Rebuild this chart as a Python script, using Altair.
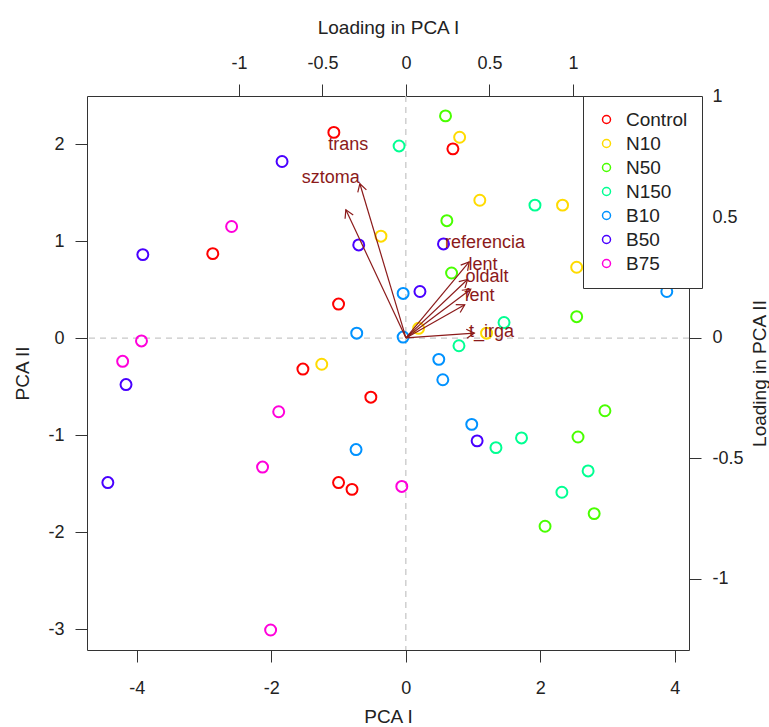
import altair as alt
import pandas as pd

FONT = "Liberation Sans, Arial, sans-serif"
TXT = "#222222"
ARROW = "#8B1A1A"

# ---- data -------------------------------------------------------------
groups = ["Control", "N10", "N50", "N150", "B10", "B50", "B75"]
colors = ["#FF0000", "#FFDB00", "#49FF00", "#00FF92", "#0092FF", "#4900FF", "#FF00DB"]

control_x = [-1.07, 0.70, -2.87, -1.00, -1.53, -0.52, -1.00, -0.80]
control_y = [2.12, 1.95, 0.87, 0.35, -0.32, -0.61, -1.49, -1.56]
n10_x = [0.80, 1.10, 2.33, -0.37, 2.54, 0.19, 1.20, -1.25]
n10_y = [2.07, 1.42, 1.37, 1.05, 0.73, 0.10, 0.05, -0.27]
n50_x = [0.59, 0.61, 0.68, 2.54, 2.96, 2.56, 2.80, 2.07]
n50_y = [2.29, 1.21, 0.67, 0.22, -0.75, -1.02, -1.81, -1.94]
n150_x = [-0.10, 1.92, 1.46, 0.79, 1.72, 1.34, 2.71, 2.32]
n150_y = [1.98, 1.37, 0.16, -0.08, -1.03, -1.13, -1.37, -1.59]
b10_x = [3.88, -0.04, -0.73, -0.04, 0.49, 0.55, 0.98, -0.74]
b10_y = [0.48, 0.46, 0.05, 0.01, -0.22, -0.43, -0.89, -1.15]
b50_x = [-1.84, -3.91, -0.70, 0.56, 0.21, -4.16, 1.06, -4.43]
b50_y = [1.82, 0.86, 0.96, 0.97, 0.48, -0.48, -1.06, -1.49]
b75_x = [-2.59, -3.93, -4.21, -1.89, -2.13, -0.06, -2.01]
b75_y = [1.15, -0.03, -0.24, -0.76, -1.33, -1.53, -3.01]

var_names = ["trans", "sztoma", "referencia", "lent", "oldalt", "fent", "t_irga"]
load_x = [-0.345, -0.45, 0.473, 0.461, 0.485, 0.44, 0.512]
load_y = [0.80, 0.665, 0.394, 0.303, 0.253, 0.172, 0.025]

bottom_ticks = [-4, -2, 0, 2, 4]
left_ticks = [-3, -2, -1, 0, 1, 2]
top_ticks = [-1, -0.5, 0, 0.5, 1]
right_ticks = [-1, -0.5, 0, 0.5, 1]

# ---- tables ----------------------------------------------------------
xs = [control_x, n10_x, n50_x, n150_x, b10_x, b50_x, b75_x]
ys = [control_y, n10_y, n50_y, n150_y, b10_y, b50_y, b75_y]
rows = []
for g, gx, gy in zip(groups, xs, ys):
    for a, b in zip(gx, gy):
        rows.append({"group": g, "pc1": a, "pc2": b})
scores = pd.DataFrame(rows)
loads = pd.DataFrame({"name": var_names, "lx": load_x, "ly": load_y})
zero_df = pd.DataFrame({"zero": [0.0]})

# ---- layout ---------------------------------------------------------
W, H = 602, 554
SX = [-4.74, 4.21]
SY = [-3.216, 2.495]
LX = [-1.910, 1.695]
LY = [-1.295, 1.004]
kx = W / (LX[1] - LX[0])
ky = H / (LY[1] - LY[0])


def axis(orient, values, title, pad, tx, ty, angle):
    return alt.Axis(
        orient=orient, values=values, title=title,
        labelExpr="'' + datum.value",
        tickSize=12, tickColor="#333333", tickWidth=1,
        domain=False, grid=False,
        labelFont=FONT, labelFontSize=18, labelColor=TXT, labelPadding=pad,
        labelFlush=False, labelOverlap=False,
        titleFont=FONT, titleFontSize=19, titleFontWeight="normal", titleColor=TXT,
        titleX=tx, titleY=ty, titleAngle=angle,
        titleBaseline="middle", titleAlign="center",
    )


ax_bottom = axis("bottom", bottom_ticks, "PCA I", 17, W / 2, 66, 0)
ax_left = axis("left", left_ticks, "PCA II", 11, -65, H / 2, 270)
ax_top = axis("top", top_ticks, "Loading in PCA I", 12, W / 2, -69, 0)
ax_right = axis("right", right_ticks, "Loading in PCA II", 11, 70, H / 2, 270)

sx = alt.Scale(domain=SX, nice=False, zero=False)
sy = alt.Scale(domain=SY, nice=False, zero=False)
lx = alt.Scale(domain=LX, nice=False, zero=False)
ly = alt.Scale(domain=LY, nice=False, zero=False)

vline = alt.Chart(zero_df).mark_rule(color="#C8C8C8", strokeDash=[6, 5], strokeWidth=1.3).encode(
    x=alt.X("zero:Q", scale=sx, axis=ax_bottom)
)
hline = alt.Chart(zero_df).mark_rule(color="#C8C8C8", strokeDash=[6, 5], strokeWidth=1.3).encode(
    y=alt.Y("zero:Q", scale=sy, axis=ax_left)
)
points = alt.Chart(scores).mark_point(filled=False, size=120, strokeWidth=2, opacity=1).encode(
    x=alt.X("pc1:Q", scale=sx, axis=ax_bottom),
    y=alt.Y("pc2:Q", scale=sy, axis=ax_left),
    color=alt.Color(
        "group:N",
        scale=alt.Scale(domain=groups, range=colors),
        sort=groups,
        legend=alt.Legend(
            orient="none", legendX=496, legendY=0, title=None,
            fillColor="white", strokeColor="#333333",
            padding=14, rowPadding=4,
            labelFont=FONT, labelFontSize=19, labelColor=TXT, labelOffset=10,
            symbolType="circle", symbolSize=64, symbolStrokeWidth=1.5,
        ),
    ),
)
inner1 = alt.layer(vline, hline, points)

base_l = alt.Chart(loads).transform_calculate(
    ox="0", oy="0", tx="0.8*datum.lx", ty="0.8*datum.ly",
    ang=f"(atan2({kx:.4f}*datum.lx, {ky:.4f}*datum.ly)*180/PI + 360) % 360",
)
arrows = base_l.mark_rule(color=ARROW, strokeWidth=1.2).encode(
    x=alt.X("ox:Q", scale=lx, axis=ax_top),
    y=alt.Y("oy:Q", scale=ly, axis=ax_right),
    x2="tx:Q",
    y2="ty:Q",
)
heads = base_l.mark_point(
    shape="M -0.5 0.866 L 0 0 L 0.5 0.866", size=324, filled=False,
    strokeWidth=1.2, color=ARROW, opacity=1,
).encode(
    x=alt.X("tx:Q", scale=lx, axis=ax_top),
    y=alt.Y("ty:Q", scale=ly, axis=ax_right),
    angle=alt.Angle("ang:Q", scale=None),
)
labels = base_l.mark_text(
    font=FONT, fontSize=18, color=ARROW, align="center", baseline="middle"
).encode(
    x=alt.X("lx:Q", scale=lx, axis=ax_top),
    y=alt.Y("ly:Q", scale=ly, axis=ax_right),
    text="name:N",
)
inner2 = alt.layer(arrows, heads, labels)

chart = (
    alt.layer(inner1, inner2)
    .resolve_scale(x="independent", y="independent")
    .properties(
        width=W, height=H,
        autosize=alt.AutoSizeParams(type="none"),
        padding={"left": 87, "top": 96, "right": 80, "bottom": 77},
        background="white",
    )
    .configure_view(stroke="#333333", strokeWidth=1)
)

chart.save("out.html", embed_options={"renderer": "svg", "actions": False})
